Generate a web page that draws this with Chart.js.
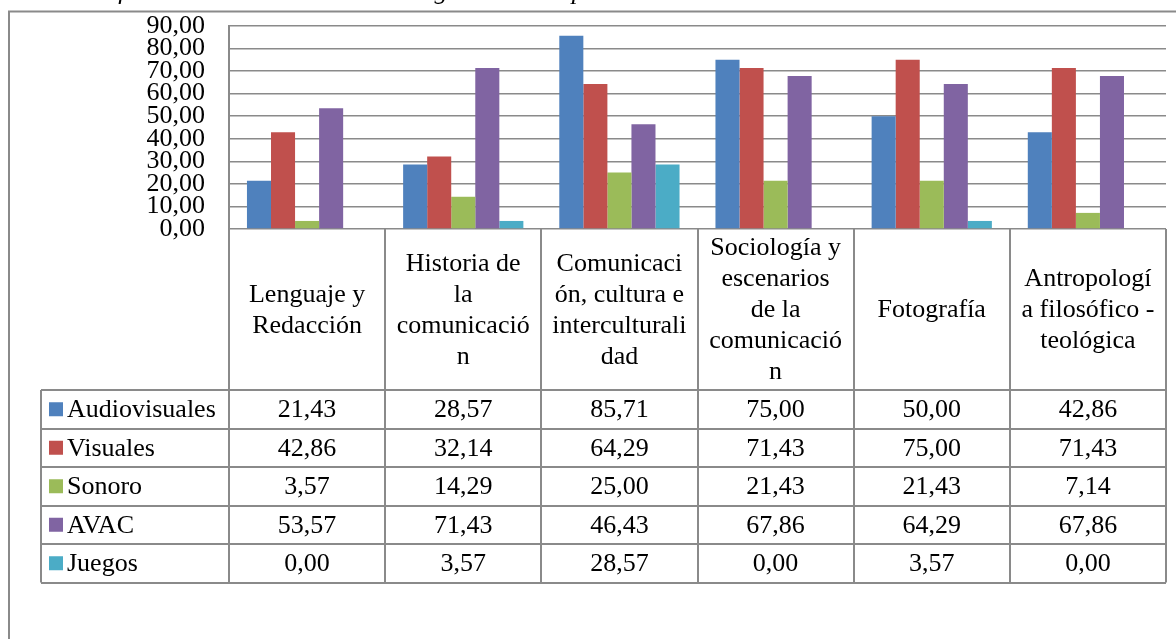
<!DOCTYPE html>
<html>
<head>
<meta charset="utf-8">
<script src="https://cdn.jsdelivr.net/npm/chart.js@4.4.1/dist/chart.umd.min.js"></script>
<style>
    html, body { margin: 0; padding: 0; background: #ffffff; overflow: hidden; }
    canvas { display: block; }
</style>
</head>
<body>
<canvas id="formatChart" width="1176" height="639"></canvas>
<script>
const chartTitle = "Uso de los formatos mediáticos en las asignaturas del primer semestre.";

const categories = [
    ["Lenguaje y", "Redacción"],
    ["Historia de", "la", "comunicació", "n"],
    ["Comunicaci", "ón, cultura e", "interculturali", "dad"],
    ["Sociología y", "escenarios", "de la", "comunicació", "n"],
    ["Fotografía"],
    ["Antropologí", "a filosófico -", "teológica"]
];

const seriesNames = ["Audiovisuales", "Visuales", "Sonoro", "AVAC", "Juegos"];
const seriesColors = ["#4f81bd", "#c0504d", "#9bbb59", "#8064a2", "#4bacc6"];

const audiovisuales = [21.43, 28.57, 85.71, 75.00, 50.00, 42.86];
const visuales = [42.86, 32.14, 64.29, 71.43, 75.00, 71.43];
const sonoro = [3.57, 14.29, 25.00, 21.43, 21.43, 7.14];
const avac = [53.57, 71.43, 46.43, 67.86, 64.29, 67.86];
const juegos = [0.00, 3.57, 28.57, 0.00, 3.57, 0.00];

const seriesValues = [audiovisuales, visuales, sonoro, avac, juegos];

const yTicks = [0, 10, 20, 30, 40, 50, 60, 70, 80, 90];

const lineColor = "#8a8a8a";
const serifFont = "'Liberation Serif', 'Times New Roman', serif";

function formatNumber(value) {
    return value.toFixed(2).replace(".", ",");
}

// draws frame, cut title and the data table under the plot
const dataTablePlugin = {
    id: "dataTable",
    afterDraw(chart) {
        const ctx = chart.ctx;
        const area = chart.chartArea;
        const xScale = chart.scales.x;
        const colWidth = (area.right - area.left) / categories.length;
        const headerBottom = 390;
        const rowHeight = 38.5;
        const tableLeft = 41;
        const tableBottom = headerBottom + rowHeight * seriesNames.length;

        ctx.save();

        // outer frame
        ctx.strokeStyle = lineColor;
        ctx.lineWidth = 2;
        ctx.strokeRect(9, 11.5, 1300, 800);

        // title, cut by the page top
        ctx.fillStyle = "#000000";
        ctx.font = "italic 26px " + serifFont;
        ctx.textAlign = "left";
        ctx.textBaseline = "alphabetic";
        ctx.fillText(chartTitle, 2, -1);

        // grid of the table
        ctx.lineWidth = 2;
        ctx.strokeStyle = lineColor;
        ctx.beginPath();
        for (let i = 0; i <= categories.length; i++) {
            const x = Math.round(area.left + colWidth * i);
            ctx.moveTo(x, area.bottom);
            ctx.lineTo(x, tableBottom);
        }
        ctx.moveTo(tableLeft, headerBottom);
        ctx.lineTo(tableLeft, tableBottom);
        for (let r = 0; r <= seriesNames.length; r++) {
            const y = Math.round(headerBottom + rowHeight * r);
            ctx.moveTo(tableLeft, y);
            ctx.lineTo(area.right, y);
        }
        ctx.stroke();

        ctx.font = "26px " + serifFont;
        ctx.textBaseline = "middle";
        ctx.fillStyle = "#000000";

        // category headers
        const lineHeight = 31;
        const headerMid = (area.bottom + headerBottom) / 2;
        categories.forEach((lines, i) => {
            const cx = xScale.getPixelForValue(i);
            const startY = headerMid - (lines.length - 1) * lineHeight / 2;
            ctx.textAlign = "center";
            lines.forEach((line, j) => {
                ctx.fillText(line, cx, startY + j * lineHeight + 1);
            });
        });

        // series rows
        seriesNames.forEach((name, r) => {
            const cy = headerBottom + rowHeight * r + rowHeight / 2 + 1;
            ctx.fillStyle = seriesColors[r];
            ctx.fillRect(49, cy - 8, 14, 14);
            ctx.fillStyle = "#000000";
            ctx.textAlign = "left";
            ctx.fillText(name, 67, cy);
            ctx.textAlign = "center";
            seriesValues[r].forEach((value, i) => {
                ctx.fillText(formatNumber(value), xScale.getPixelForValue(i), cy);
            });
        });

        ctx.restore();
    }
};

document.addEventListener("DOMContentLoaded", () => {
    const canvas = document.getElementById("formatChart");
    const ctx = canvas.getContext("2d");

    window.formatChart = new Chart(ctx, {
        type: "bar",
        data: {
            labels: categories,
            datasets: seriesNames.map((name, i) => ({
                label: name,
                data: seriesValues[i],
                backgroundColor: seriesColors[i],
                borderWidth: 0,
                categoryPercentage: 0.77,
                barPercentage: 1
            }))
        },
        options: {
            responsive: false,
            animation: false,
            layout: {
                padding: { top: 26, bottom: 410, left: 0, right: 10 }
            },
            plugins: {
                legend: { display: false },
                tooltip: { enabled: false }
            },
            scales: {
                x: {
                    display: false
                },
                y: {
                    min: yTicks[0],
                    max: yTicks[yTicks.length - 1],
                    afterFit(scale) {
                        scale.width = 229;
                        scale.paddingTop = 0;
                        scale.paddingBottom = 0;
                    },
                    afterBuildTicks(scale) {
                        scale.ticks = yTicks.map((v) => ({ value: v }));
                    },
                    ticks: {
                        autoSkip: false,
                        padding: 24,
                        color: "#000000",
                        font: { family: serifFont, size: 26, lineHeight: 1 },
                        callback: (value) => formatNumber(value)
                    },
                    grid: {
                        color: lineColor,
                        lineWidth: 1.5,
                        drawTicks: false
                    },
                    border: {
                        color: lineColor,
                        width: 2
                    }
                }
            }
        },
        plugins: [dataTablePlugin]
    });
});
</script>
</body>
</html>
